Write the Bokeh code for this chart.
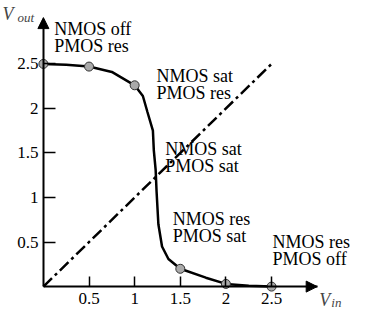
from bokeh.plotting import figure
from bokeh.models import Range1d, FixedTicker, Label, Arrow, NormalHead
from bokeh.embed import file_html
from bokeh.resources import INLINE

# ---- data ----
vin_curve = [0, 0.25, 0.5, 0.75, 1.0, 1.09, 1.14, 1.2, 1.21, 1.23, 1.24, 1.26, 1.30, 1.37, 1.5, 1.78, 2.0, 2.25, 2.5]
vout_curve = [2.5, 2.49, 2.47, 2.41, 2.26, 2.14, 1.96, 1.75, 1.53, 1.31, 1.07, 0.70, 0.45, 0.31, 0.20, 0.10, 0.03, 0.01, 0.0]
vin_pts = [0, 0.5, 1.0, 1.5, 2.0, 2.5]
vout_pts = [2.5, 2.47, 2.26, 0.20, 0.03, 0.0]
diag_x = [0, 2.5]
diag_y = [0, 2.5]
tick_vals = [0.5, 1, 1.5, 2, 2.5]
tick_labels = {0.5: "0.5", 1: "1", 1.5: "1.5", 2: "2", 2.5: "2.5"}
region_x = [0.118, 1.239, 1.335, 1.418, 2.511]
region_y = [2.845, 2.314, 1.501, 0.714, 0.453]
region_lines = [("NMOS off", "PMOS res"), ("NMOS sat", "PMOS res"), ("NMOS sat", "PMOS sat"),
                ("NMOS res", "PMOS sat"), ("NMOS res", "PMOS off")]

SERIF = "Liberation Serif"
RAISE = 4  # px correction of text baseline

p = figure(width=352, height=313, output_backend="svg", toolbar_location=None,
           x_range=Range1d(-0.470, 3.387), y_range=Range1d(-0.302, 3.212),
           min_border=0)
p.outline_line_color = None
p.grid.visible = False
p.background_fill_color = "white"
p.border_fill_color = "white"

for ax in (p.xaxis[0], p.yaxis[0]):
    ax.fixed_location = 0
    ax.bounds = (0, 3.0)
    ax.ticker = FixedTicker(ticks=tick_vals)
    ax.major_label_overrides = tick_labels
    ax.minor_tick_line_color = None
    ax.major_tick_out = 0
    ax.axis_line_width = 2
    ax.axis_line_color = "black"
    ax.major_tick_line_width = 1.5
    ax.major_tick_line_color = "black"
    ax.major_label_text_font = SERIF
    ax.major_label_text_font_size = "17px"
    ax.major_label_text_color = "black"
p.xaxis[0].major_tick_in = 10
p.xaxis[0].major_label_standoff = 6
p.yaxis[0].major_tick_in = 12
p.yaxis[0].major_label_standoff = 5

# axis arrows
p.add_layout(Arrow(end=NormalHead(size=11, fill_color="black", line_color="black"),
                   x_start=2.9, y_start=0, x_end=3.0, y_end=0, line_width=2))
p.add_layout(Arrow(end=NormalHead(size=11, fill_color="black", line_color="black"),
                   x_start=0, y_start=2.9, x_end=0, y_end=3.02, line_width=2))

# diagonal
p.line(diag_x, diag_y, line_color="black", line_width=2.5, line_dash="12 4 3 4")
# transfer curve
p.line(vin_curve, vout_curve, line_color="black", line_width=2.5)
p.scatter(vin_pts, vout_pts, size=9, fill_color="#aaaaaa", line_color="#333333", line_width=1)

# region labels
for x, y, lines in zip(region_x, region_y, region_lines):
    for i, t in enumerate(lines):
        p.add_layout(Label(x=x, y=y, y_offset=RAISE - 17 * i, text=t, text_font=SERIF,
                           text_font_size="18px", text_color="black",
                           text_baseline="alphabetic", text_align="left"))

# axis titles
p.add_layout(Label(x=-0.449, y=3.010, y_offset=RAISE, text="V", text_font=SERIF,
                   text_font_style="italic", text_font_size="18px", text_baseline="alphabetic"))
p.add_layout(Label(x=-0.285, y=2.974, y_offset=RAISE, text="out", text_font=SERIF,
                   text_font_style="italic", text_font_size="13px", text_baseline="alphabetic"))
p.add_layout(Label(x=3.024, y=-0.248, y_offset=RAISE + 5, text="V", text_font=SERIF,
                   text_font_style="italic", text_font_size="18px", text_baseline="alphabetic"))
p.add_layout(Label(x=3.155, y=-0.280, y_offset=RAISE + 5, text="in", text_font=SERIF,
                   text_font_style="italic", text_font_size="13px", text_baseline="alphabetic"))

open("out.html", "w").write(file_html(p, INLINE))
